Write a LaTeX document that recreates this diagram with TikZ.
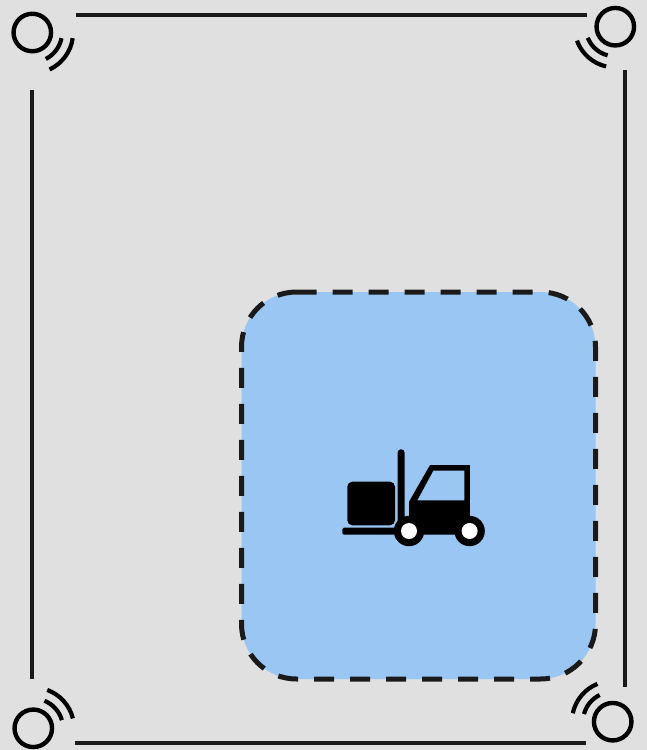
\documentclass[tikz,border=0pt]{standalone}
\definecolor{bg}{HTML}{E0E0E0}
\definecolor{zone}{HTML}{99C6F2}
\definecolor{ink}{HTML}{1A1A1A}
\tikzset{
  wall/.style={draw=ink,line width=4.2pt},
  sensor/.style={circle,draw=black,line width=4.4pt,minimum size=37.5pt,inner sep=0pt,outer sep=0pt},
  wave/.style={draw=black,line width=4.2pt},
  zoneline/.style={draw=ink,line width=5pt,dash pattern=on 20pt off 16pt},
}
\newcommand{\waves}[5]{%
  \draw[wave] ([shift={(#1)}]#2:29.7) arc[start angle=#2,end angle=#3,radius=29.7];
  \draw[wave] ([shift={(#1)}]#4:40.8) arc[start angle=#4,end angle=#5,radius=40.8];
}
\begin{document}
\begin{tikzpicture}[x=1pt,y=-1pt]
\useasboundingbox (0,0) rectangle (647,750);
\fill[bg] (0,0) rectangle (647,750);
% walls
\coordinate (tl) at (76,14.8); \coordinate (tr) at (587,14.8);
\coordinate (bl) at (75,742.7); \coordinate (br) at (586,742.7);
\coordinate (lt) at (32,90); \coordinate (lb) at (32,678.5);
\coordinate (rt) at (625,70); \coordinate (rb) at (625,686.5);
\draw[wall] (tl) -- (tr);
\draw[wall] (bl) -- (br);
\draw[wall] (lt) -- (lb);
\draw[wall] (rt) -- (rb);
% sensors
\node[sensor] (s1) at (32.3,32.5) {};
\node[sensor] (s2) at (615.3,26.7) {};
\node[sensor] (s3) at (33.3,728.3) {};
\node[sensor] (s4) at (612.7,721.7) {};
\waves{s1.center}{11}{63}{8}{65}
\waves{s2.center}{158}{105}{160}{103}
\waves{s3.center}{-68}{-16}{-70}{-14}
\waves{s4.center}{-116}{-165}{-112}{-168}
% zone
\fill[zone,rounded corners=55pt] (241.5,292) rectangle (595.5,679);
\draw[zoneline] (296.7,292) -- (540.5,292) arc[start angle=-90,end angle=0,radius=55]
  -- (595.5,624) arc[start angle=0,end angle=90,radius=55]
  -- (296.5,679) arc[start angle=90,end angle=180,radius=55]
  -- (241.5,347) arc[start angle=180,end angle=270,radius=55] -- cycle;
% forklift
\fill[black,rounded corners=1.5pt] (342.3,527.7) rectangle (410,534.7);
\fill[black,rounded corners=3.2pt] (397.7,449.3) rectangle (404.5,530);
\fill[black,rounded corners=5pt] (347.3,481.7) rectangle (395,525.3);
\fill[black,even odd rule] (409,501.7) -- (430,465) -- (469.8,465) -- (469.8,534.5) -- (409,534.5) -- cycle
  (417.3,500.3) -- (433.3,470.7) -- (464.3,470.7) -- (464.3,500.3) -- cycle;
\fill[black] (409,531) circle[radius=15.2] (469.6,531) circle[radius=15.2];
\fill[white] (409,531) circle[radius=8] (469.6,531) circle[radius=8];
\end{tikzpicture}
\end{document}
